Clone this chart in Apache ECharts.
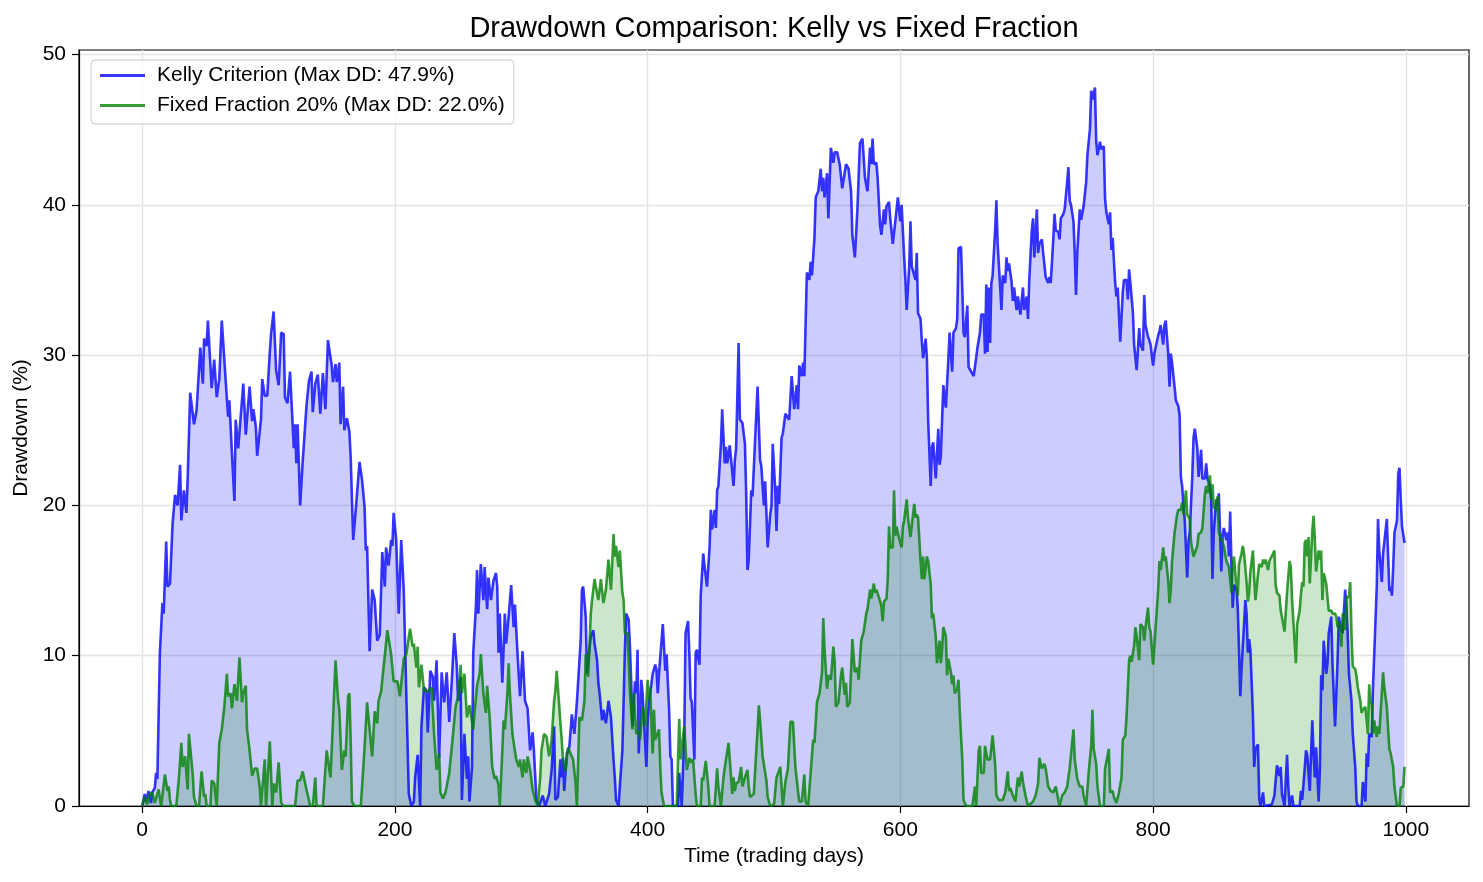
<!DOCTYPE html>
<html><head><meta charset="utf-8">
<script src="https://cdn.jsdelivr.net/npm/echarts@6/dist/echarts.min.js"></script>
<style>html,body{margin:0;padding:0;background:#fff}#c{width:1483px;height:882px}</style>
</head><body><div id="c"></div>
<script>
const TITLE = 'Drawdown Comparison: Kelly vs Fixed Fraction';
const X_NAME = 'Time (trading days)';
const Y_NAME = 'Drawdown (%)';
const KELLY_NAME = 'Kelly Criterion (Max DD: 47.9%)';
const FIXED_NAME = 'Fixed Fraction 20% (Max DD: 22.0%)';
const xTicks = [0, 200, 400, 600, 800, 1000];
const yTicks = [0, 10, 20, 30, 40, 50];

const kellyDays = [0,2,3,5,7,8,10,11,12,14,16,17,19,20,22,24,26,28,30,31,33,35,36,38,41,43,46,48,49,51,52,55,57,59,61,63,66,68,69,71,73,74,76,80,82,85,87,88,90,91,94,95,97,99,101,102,104,106,108,110,112,113,115,117,120,121,122,123,125,127,130,132,134,135,137,139,141,143,145,147,150,151,153,154,156,157,159,160,162,164,165,167,169,172,174,176,177,178,180,182,184,186,188,190,192,193,195,197,198,199,201,203,205,207,209,211,213,215,216,218,220,221,223,225,226,228,230,231,233,235,237,239,241,243,245,247,249,250,252,253,255,257,258,259,261,262,264,265,266,268,270,271,273,274,276,278,280,281,282,283,285,287,288,290,292,294,295,297,299,301,303,305,307,309,310,312,314,317,319,322,324,326,327,329,330,331,332,333,334,336,338,340,342,344,345,347,348,349,351,352,353,355,357,358,360,361,362,364,365,367,369,371,373,374,375,377,378,380,382,383,385,386,387,388,390,391,392,393,395,396,397,399,400,401,402,404,406,407,408,409,412,414,415,416,417,418,419,420,424,425,426,427,429,430,432,433,434,435,437,438,439,441,442,444,445,447,449,450,451,453,454,455,456,458,459,461,462,463,465,466,468,469,470,472,473,475,477,478,479,480,482,483,485,487,489,490,492,493,494,495,497,498,499,501,502,503,504,506,507,509,512,514,516,518,519,520,522,523,524,526,528,529,530,532,533,535,537,538,539,540,542,543,545,547,548,550,552,554,555,557,559,561,562,564,566,568,570,572,574,576,577,578,579,581,582,584,585,587,588,589,591,592,594,596,598,600,601,603,604,605,607,608,609,611,612,613,614,616,617,618,620,621,622,624,625,626,628,630,631,632,634,636,638,639,641,642,644,645,646,648,649,650,651,653,654,656,658,659,661,663,664,666,667,668,669,670,671,672,673,675,676,677,679,680,681,683,684,685,686,688,689,690,692,693,695,696,697,698,700,701,702,704,705,706,708,709,710,712,713,714,715,717,718,719,721,722,723,725,726,727,729,730,731,733,734,735,737,738,739,740,742,743,745,746,747,748,750,751,752,754,755,756,758,759,761,762,763,765,766,767,768,770,771,772,774,776,777,779,780,781,782,784,785,787,788,789,790,792,793,794,796,797,798,800,801,802,804,805,806,808,809,810,812,813,814,815,817,818,820,821,822,823,824,825,827,828,829,831,832,833,835,836,837,838,839,841,842,843,845,846,847,848,850,851,852,854,855,856,858,859,860,861,862,863,864,866,867,868,869,870,872,873,874,875,876,877,879,880,881,883,884,885,887,888,894,896,898,900,901,902,904,906,907,908,910,911,916,917,918,920,921,922,924,925,926,927,928,929,931,932,933,934,935,937,938,939,941,942,944,946,947,949,950,952,953,954,955,957,958,960,961,962,965,966,968,969,970,971,973,974,975,977,978,979,981,982,983,985,986,987,988,989,990,991,993,994,995,996,997,998,999];
const kellyDD = [0,0.8,0.3,1.0,0.2,0.9,1.2,2.2,1.8,10.2,13.5,12.8,17.6,14.6,14.8,18.7,20.7,20.0,22.7,19.0,21.0,19.5,21.8,27.5,25.4,26.3,30.5,28.1,31.1,30.6,32.3,27.8,29.7,27.2,28.4,32.3,28.4,25.9,27.0,23.5,20.3,25.7,23.8,28.1,24.7,27.9,25.6,26.4,25.2,23.3,25.7,28.4,27.3,27.3,30.2,31.4,32.9,29.0,28.0,31.5,31.4,27.2,26.8,28.9,23.8,25.4,22.8,25.4,20.0,22.9,26.6,28.3,28.9,26.2,28.1,28.7,26.1,28.8,26.4,31.0,29.3,28.2,29.4,28.2,29.5,25.4,27.9,25.0,25.8,24.9,23.2,17.7,19.7,22.9,21.7,19.9,17.0,17.3,10.3,14.4,13.7,11.0,11.4,16.9,14.6,17.2,16.0,17.7,17.3,19.5,17.7,12.8,17.7,14.4,7.5,0.8,0,0.3,1.9,3.4,0,5.3,7.9,7.7,4.9,9.0,8.6,7.0,9.7,3.2,8.9,6.9,8.9,5.6,8.3,11.5,9.3,7.0,8.6,0.4,4.8,1.8,3.3,0.3,2.6,10.2,13.1,15.7,12.8,16.1,13.7,15.9,13.1,15.2,13.7,15.0,15.5,14.6,10.2,12.8,8.2,12.8,10.8,12.6,14.7,11.9,13.4,10.2,7.3,10.3,7.0,6.5,3.7,4.9,3.7,0.4,0,0.7,0,0.8,2.4,5.3,0.4,0.6,1.9,3.1,1.9,3.2,1.0,3.5,3.9,6.1,4.8,6.9,6.8,11.0,14.4,14.6,12.6,8.8,9.7,11.3,11.7,10.8,9.7,8.2,7.5,5.7,6.4,5.5,7.0,5.9,3.1,1.9,0.4,0,1.3,3.7,10.4,12.8,12.4,10.6,8.2,5.3,8.3,7.5,10.4,3.5,8.4,7.5,5.9,2.6,5.7,6.8,7.5,8.8,9.4,9.1,7.5,8.8,12.1,9.0,10.1,10.2,6.4,3.3,3.1,0,0,2.2,2.3,0,4.8,11.5,12.3,10.2,7.2,6.9,3.1,10.2,10.4,9.4,14.0,16.8,16.0,14.6,17.2,19.7,18.4,19.7,18.5,21.0,21.3,24.1,26.4,22.8,23.9,22.8,24.0,23.9,21.3,23.0,23.8,30.8,25.7,25.5,24.1,20.8,15.7,16.4,21.0,20.6,24.3,27.9,23.0,22.6,20.0,21.6,19.5,17.2,19.4,20.0,24.1,21.0,18.3,21.3,20.1,24.5,24.8,26.1,25.7,28.6,26.4,28.0,26.4,29.3,28.6,29.5,28.6,35.5,35.0,36.2,35.3,37.8,40.5,40.9,42.4,40.9,41.8,40.5,42.1,39.1,43.8,42.8,43.5,43.5,42.7,41.1,41.2,42.7,42.4,40.9,38.0,36.5,39.7,44.1,44.4,41.8,40.9,43.8,42.7,44.4,42.7,42.8,41.8,38.6,38.0,39.7,38.7,39.9,40.2,39.1,37.4,38.9,40.5,38.9,40.0,36.5,35.0,33.0,35.9,38.9,35.9,35.3,35.0,36.8,32.8,32.4,30.9,29.8,31.1,29.8,25.7,21.3,23.9,24.2,21.8,25.1,22.7,23.3,28.0,26.5,29.8,31.5,28.9,31.5,31.8,32.4,37.1,37.2,34.5,31.5,31.2,33.3,29.2,28.9,28.6,29.2,30.5,31.5,32.7,32.7,30.1,34.7,30.2,34.5,30.8,34.8,35.3,38.3,40.3,37.4,34.5,33.0,35.3,34.8,36.5,35.6,36.1,34.9,33.6,34.5,33.0,33.9,32.7,32.6,34.5,33.0,33.9,32.4,35.0,38.3,39.1,36.5,39.7,36.8,37.4,37.7,36.8,36.9,35.2,34.8,35.2,34.8,37.7,39.4,38.3,38.2,37.7,39.1,39.4,39.7,40.6,42.5,40.3,40.0,38.9,36.8,34.0,36.8,39.7,39.0,39.9,40.0,41.5,43.3,45.0,47.6,47.0,47.8,44.2,43.3,44.2,43.7,43.9,40.4,39.5,38.7,39.5,37.0,37.8,34.8,33.9,34.5,30.9,34.2,35.0,35.0,33.7,35.7,34.8,32.9,30.7,29.0,29.0,31.8,30.7,30.3,34.0,32.0,31.2,31.0,30.7,29.3,30.1,30.1,31.3,31.6,32.0,30.7,32.0,32.3,30.1,27.9,30.1,29.5,27.9,27.0,26.6,26.0,21.9,21.3,20.1,19.1,15.2,17.6,18.2,21.9,24.5,25.1,23.8,21.9,21.8,23.7,21.8,21.8,22.8,21.8,21.3,20.4,15.1,18.2,20.4,20.0,20.8,15.6,18.0,18.5,17.7,18.2,16.6,19.6,16.1,13.2,14.7,14.5,13.2,10.4,7.3,9.2,12.1,13.7,12.8,10.2,11.1,10.4,6.1,2.6,3.8,4.1,0.5,0,0.9,0,0.1,0.7,2.7,2.0,2.6,0.8,0,3.4,1.3,0,0.7,0,0,1.0,0.4,2.5,3.7,3.4,1.0,3.5,5.7,3.5,1.9,3.9,0.3,2.5,8.7,7.7,11.0,8.8,9.5,11.5,12.6,9.4,5.3,9.7,12.6,11.7,11.5,14.4,13.3,11.5,8.8,7.0,4.8,2.6,0.3,0,0,1.6,0.3,3.5,2.6,4.8,4.6,7.9,10.1,14.6,19.1,17.0,14.9,16.8,16.8,19.1,16.6,14.3,14.6,14.0,15.9,18.2,19.0,22.1,22.5,20.4,18.6,18.6,17.5];

const fixedDays = [0,2,4,6,8,10,13,15,18,20,21,22,23,27,29,31,32,34,36,37,40,41,43,45,47,49,50,51,54,55,57,59,61,63,65,67,68,70,71,73,75,77,79,80,82,83,85,87,89,91,93,94,97,98,101,103,104,106,108,110,112,121,123,125,127,130,133,135,137,138,143,146,149,151,153,155,156,158,160,161,163,164,165,166,168,173,176,178,182,184,186,187,189,190,192,194,197,199,202,204,205,207,209,212,214,215,217,218,219,221,223,226,229,231,233,235,236,238,240,243,246,248,250,251,252,253,255,257,259,262,263,265,267,268,270,272,273,275,277,279,280,282,283,285,286,287,289,290,291,293,294,296,298,299,301,302,304,305,307,309,311,313,315,316,318,320,322,324,326,327,328,329,331,332,333,335,337,339,341,343,344,346,348,350,351,353,355,356,358,359,361,363,365,367,369,371,373,374,375,377,378,380,381,382,384,385,386,388,389,391,393,394,396,398,400,401,402,404,405,406,409,410,411,413,423,425,426,427,429,430,431,433,434,436,438,439,442,443,444,446,448,449,453,455,456,458,460,462,464,465,467,468,469,470,472,474,475,477,479,480,481,484,486,487,488,489,491,492,494,495,497,500,502,503,505,506,507,509,511,513,515,516,517,519,520,522,524,525,527,529,531,532,534,536,538,539,540,542,543,545,547,548,549,551,553,554,556,557,558,560,562,564,566,567,569,571,573,574,576,577,579,580,581,583,585,586,587,589,590,591,592,594,595,596,597,599,601,602,603,605,606,608,609,611,612,613,614,616,617,618,619,621,622,624,625,626,628,629,631,632,633,634,636,637,638,640,641,642,643,645,646,647,649,650,652,657,659,660,662,663,664,666,667,668,669,671,673,675,676,678,681,683,685,686,687,689,691,693,694,696,697,699,701,705,707,709,710,712,714,715,717,719,721,723,725,726,728,730,732,734,735,737,738,740,742,744,745,747,749,751,752,753,755,756,758,761,762,765,766,768,769,771,773,775,776,778,779,780,781,782,783,785,786,787,789,790,792,793,794,796,797,798,800,801,802,804,805,806,808,809,810,812,813,814,815,817,818,819,820,822,823,824,826,827,829,830,832,833,835,836,838,839,841,842,843,845,846,847,848,850,851,852,853,855,856,858,859,860,862,863,864,866,867,868,870,871,872,874,875,876,877,879,880,881,883,884,886,887,888,889,891,892,893,895,896,897,898,900,901,903,904,905,906,908,909,910,912,913,914,916,917,918,919,920,921,922,923,924,926,927,928,929,931,932,933,934,935,937,938,939,941,942,944,945,946,947,949,950,951,952,953,955,956,957,958,960,961,962,964,965,966,968,969,970,971,972,973,974,975,977,978,979,981,982,983,985,986,987,988,990,991,993,995,996,998,999];
const fixedDD = [0,0.6,0.1,0.8,0.9,0.2,1.1,0,2.1,1.0,1.3,0.4,0,0,1.8,4.2,2.6,3.3,1.1,4.8,2.1,0.6,0,0,2.3,0.6,0.8,0,0,1.7,1.5,0,4.2,5.1,6.6,8.8,7.3,7.5,6.5,8.1,7.0,9.9,6.9,7.5,8.0,5.1,3.7,2.0,2.5,2.5,1.3,0,3.1,0,4.3,0,1.5,0.9,2.9,0.2,0,0,1.7,1.7,2.3,1.1,0,0,1.9,0,0,3.7,1.9,5.7,9.7,7.1,6.4,2.4,3.7,3.3,7.3,7.5,4.3,0.3,0,0,3.9,6.9,3.3,6.3,5.5,7.0,7.6,7.5,10.0,11.7,10.1,8.3,8.3,7.3,7.2,9.8,10.1,11.8,10.6,10.8,9.2,10.6,7.9,9.4,7.7,7.6,7.9,4.8,2.4,3.5,0.9,0.5,0.9,2.2,4.8,6.6,7.3,8.2,9.4,7.5,8.8,5.9,6.7,5.1,6.2,8.0,8.8,10.1,7.5,6.2,8.0,5.9,2.6,1.8,2.0,1.4,0,3.7,5.7,5.1,7.5,9.5,7.5,4.8,4.2,3.1,2.6,3.1,1.9,3.1,2.2,3.3,2.4,1.1,0.4,0,1.9,3.7,4.8,4.6,3.3,4.4,7.0,7.7,9.0,7.9,5.5,4.4,3.1,2.3,3.9,3.5,3.1,1.5,0,5.9,5.7,7.0,10.1,8.6,12.8,13.7,15.1,14.6,13.7,15.1,13.5,14.4,16.4,14.4,18.1,16.6,17.3,15.9,17.0,14.2,13.7,11.5,11.5,9.7,7.5,5.1,7.5,4.8,5.0,4.4,6.6,5.3,8.4,7.0,7.9,3.5,6.4,4.4,5.1,2.6,0.9,0,0,5.8,3.1,3.9,5.3,3.9,2.4,3.2,2.9,3.1,0.8,0,0,1.9,1.7,3.0,1.3,0,0,2.5,1.3,0,1.9,3.1,4.2,3.1,0.8,1.9,1.0,1.5,1.6,2.6,1.3,1.9,2.4,1.3,0.6,0.8,3.7,5.1,6.7,5.7,3.3,3.4,1.7,0.6,0,0.1,1.9,1.9,2.6,1.3,0,1.6,2.5,5.6,5.6,4.0,2.5,1.0,0.3,0.3,2.1,0.3,0,2.2,4.4,4.2,6.9,7.5,8.9,12.5,10.4,7.8,8.7,8.4,10.6,9.6,6.6,6.9,8.7,9.2,7.4,8.2,6.6,6.9,11.1,8.9,9.2,8.4,11.0,11.6,12.8,13.1,14.4,13.8,14.8,14.2,14.4,13.9,13.3,12.3,13.6,13.8,15.1,18.6,17.2,17.2,21.0,18.0,18.6,17.8,17.2,18.6,19.0,20.4,19.2,17.9,18.0,20.1,19.2,19.4,19.2,16.3,15.1,16.6,15.1,16.6,16.3,14.8,12.5,12.8,11.3,9.5,11.0,9.5,10.4,11.9,11.3,8.7,9.8,8.9,8.1,8.7,7.5,7.8,8.4,6.3,3.1,0.4,0,0,1.3,0,3.7,4.0,2.2,2.2,4.0,3.9,3.1,3.1,4.7,2.8,0.7,0.4,0.4,0.9,2.3,1.0,1.2,0.7,0.3,1.9,1.3,2.3,1.6,0.7,0,0.3,0.7,1.5,3.2,2.5,2.8,2.5,1.3,1.0,0.9,1.3,0.4,0,0.7,0.9,1.3,2.5,3.4,5.1,3.1,1.8,1.3,1.3,0.7,0,2.2,4.0,6.4,3.8,2.8,1.3,0,0,2.5,3.8,0.9,1.0,0.6,0.2,0.9,1.9,4.4,4.7,6.0,7.8,9.7,10.0,9.6,10.7,11.9,11.3,9.7,12.1,11.9,11.0,11.9,13.2,11.9,11.6,9.4,9.3,11.9,14.4,16.3,15.7,17.2,16.3,16.6,15.0,13.5,14.4,16.3,18.2,18.3,19.4,19.7,19.7,20.2,19.4,21.0,19.4,19.1,17.6,16.6,16.6,17.3,18.1,18.2,18.5,20.8,21.3,20.8,22.0,20.4,21.4,19.9,19.7,20.6,18.2,18.0,17.5,17.3,16.3,16.1,15.9,14.2,16.1,16.6,14.5,14.0,16.1,16.8,17.3,16.8,14.9,13.6,14.2,15.6,17.0,15.2,13.7,15.4,16.1,15.9,16.4,16.1,16.4,15.7,16.3,16.4,16.8,17.0,14.7,14.2,14.0,13.0,12.1,11.6,11.5,14.2,16.3,15.9,13.7,10.9,9.5,12.1,13.0,14.1,14.9,14.6,17.5,17.7,16.6,17.9,14.8,18.3,19.3,17.7,15.6,17.0,16.4,17.0,13.7,15.5,14.8,13.9,13.0,13.0,12.8,12.8,12.6,11.9,12.3,10.6,12.8,12.6,11.7,13.9,13.9,14.9,11.5,9.3,9.1,8.6,7.9,7.0,6.2,6.4,6.6,6.6,4.8,8.1,7.0,6.8,4.8,5.7,4.6,5.3,4.8,7.5,8.9,7.9,6.6,5.1,3.8,3.5,2.6,1.3,0,0,1.2,1.3,2.6];

const FONT = '"Liberation Sans", Arial, Helvetica, sans-serif';
const kellyData = kellyDays.map((d, i) => [d, kellyDD[i]]);
const fixedData = fixedDays.map((d, i) => [d, fixedDD[i]]);

const chart = echarts.init(document.getElementById('c'), null, {renderer: 'canvas'});
const axisCommon = {
  axisLine: {show: true, onZero: false, lineStyle: {color: '#000', width: 1.2}},
  splitLine: {show: true, lineStyle: {color: '#e4e4e4', width: 1.4}},
  nameLocation: 'middle',
  nameTextStyle: {fontFamily: FONT, fontSize: 21, color: '#000'}
};
chart.setOption({
  animation: false,
  backgroundColor: '#ffffff',
  title: {
    text: TITLE, left: 774, textAlign: 'center', top: 14, padding: 0,
    textStyle: {fontFamily: FONT, fontSize: 29, fontWeight: 'normal', color: '#000'}
  },
  grid: {left: 79, top: 50, right: 14, bottom: 76, show: true, borderColor: '#000', borderWidth: 1.2, backgroundColor: 'transparent'},
  legend: {
    orient: 'vertical', left: 91, top: 60,
    padding: [5, 9, 8, 9], itemGap: 9, itemWidth: 45, itemHeight: 3, icon: 'rect',
    backgroundColor: 'rgba(255,255,255,0.8)', borderColor: '#cccccc', borderWidth: 1, borderRadius: 4,
    textStyle: {fontFamily: FONT, fontSize: 21, color: '#000', padding: [0, 0, 0, 7]},
    data: [KELLY_NAME, FIXED_NAME]
  },
  xAxis: Object.assign({}, axisCommon, {
    type: 'value', min: -50, max: 1050,
    name: X_NAME, nameGap: 40,
    axisTick: {show: true, customValues: xTicks, length: 7, lineStyle: {color: '#000', width: 1.2}},
    axisLabel: {customValues: xTicks, margin: 14, fontFamily: FONT, fontSize: 21, color: '#000', formatter: v => String(v)}
  }),
  yAxis: Object.assign({}, axisCommon, {
    type: 'value', min: 0, max: 50.3,
    name: Y_NAME, nameGap: 44,
    axisTick: {show: true, customValues: yTicks, length: 7, lineStyle: {color: '#000', width: 1.2}},
    axisLabel: {customValues: yTicks, margin: 13, fontFamily: FONT, fontSize: 21, color: '#000', formatter: v => String(v)}
  }),
  series: [
    {
      name: KELLY_NAME, type: 'line', data: kellyData, symbol: 'none', smooth: false,
      lineStyle: {color: 'rgba(0,0,255,0.78)', width: 2.6},
      itemStyle: {color: 'rgba(0,0,255,0.78)'},
      areaStyle: {color: 'rgb(0,0,255)', opacity: 0.2, origin: 'start'}
    },
    {
      name: FIXED_NAME, type: 'line', data: fixedData, symbol: 'none', smooth: false,
      lineStyle: {color: 'rgba(0,128,0,0.78)', width: 2.6},
      itemStyle: {color: 'rgba(0,128,0,0.78)'},
      areaStyle: {color: 'rgb(0,128,0)', opacity: 0.2, origin: 'start'}
    }
  ]
});
</script></body></html>
